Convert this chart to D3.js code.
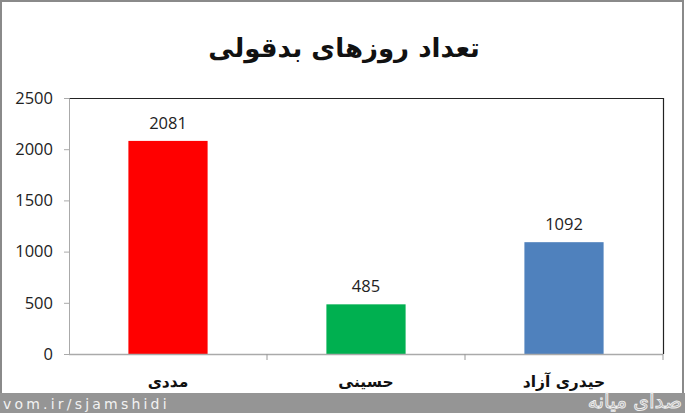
<!DOCTYPE html>
<html><head><meta charset="utf-8">
<script src="https://cdn.jsdelivr.net/npm/d3@7"></script>
<style>body{margin:0;background:#fff}svg{display:block}</style>
</head><body>
<script>
const categories = ["مددی", "حسینی", "حیدری آزاد"];
const values = [2081, 485, 1092];
const colors = ["#FF0000", "#00B050", "#4F81BD"];
const yTicks = [0, 500, 1000, 1500, 2000, 2500];
const title = "تعداد روزهای بدقولی";

const W = 685, H = 413;
const svg = d3.select("body").append("svg").attr("width", W).attr("height", H);

// outer frame
svg.append("rect").attr("x", 1).attr("y", 1).attr("width", 682).attr("height", 411)
  .attr("fill", "#fff").attr("stroke", "#8a8a8a").attr("stroke-width", 2);

const m = {left: 69, right: 663, top: 98, bottom: 354};
const x = d3.scaleBand().domain(categories).range([m.left, m.right]).paddingInner(0.6).paddingOuter(0.3);
const y = d3.scaleLinear().domain([0, 2500]).range([m.bottom, m.top]);

// top and right border (dark)
svg.append("path").attr("d", `M${m.left},${m.top+0.5}H${m.right+0.5}V${m.bottom}`)
  .attr("fill", "none").attr("stroke", "#222").attr("stroke-width", 1.2);

// bars
svg.selectAll("rect.bar").data(values).join("rect").attr("class", "bar")
  .attr("x", (d, i) => x(categories[i]))
  .attr("width", x.bandwidth())
  .attr("y", d => y(d))
  .attr("height", d => y(0) - y(d))
  .attr("fill", (d, i) => colors[i]);

// value labels
svg.selectAll("text.val").data(values).join("text").attr("class", "val")
  .attr("x", (d, i) => x(categories[i]) + x.bandwidth() / 2)
  .attr("y", d => y(d) - 12)
  .attr("text-anchor", "middle")
  .attr("font-family", "Open Sans, sans-serif").attr("font-size", 16.5).attr("fill", "#222")
  .text(d => d);

// y axis
const yAxis = d3.axisLeft(y).tickValues(yTicks).tickSize(5).tickPadding(11).tickFormat(d3.format("d"));
const gy = svg.append("g").attr("transform", `translate(${m.left},0)`).call(yAxis);
gy.select(".domain").attr("stroke", "#aaa");
gy.selectAll(".tick line").attr("stroke", "#aaa");
gy.selectAll(".tick text").attr("font-family", "Open Sans, sans-serif").attr("font-size", 16.5).attr("fill", "#222");

// x axis
const step = x.step();
const gx = svg.append("g");
gx.append("line").attr("x1", m.left).attr("x2", m.right).attr("y1", m.bottom + 0.5).attr("y2", m.bottom + 0.5)
  .attr("stroke", "#aaa").attr("stroke-width", 1.5);
const bounds = d3.range(categories.length + 1).map(i => m.left + i * step);
gx.selectAll("line.tk").data(bounds.slice(1)).join("line").attr("class", "tk")
  .attr("x1", d => d).attr("x2", d => d).attr("y1", m.bottom).attr("y2", m.bottom + 6)
  .attr("stroke", "#999");
gx.selectAll("text.cat").data(categories).join("text").attr("class", "cat")
  .attr("x", d => x(d) + x.bandwidth() / 2)
  .attr("y", 387)
  .attr("text-anchor", "middle").attr("direction", "rtl")
  .attr("font-family", "DejaVu Sans, sans-serif").attr("font-weight", "bold").attr("font-size", 15.5).attr("fill", "#111")
  .text(d => d);

// title
svg.append("text").attr("x", 344).attr("y", 57).attr("text-anchor", "middle").attr("direction", "rtl")
  .attr("font-family", "DejaVu Sans, sans-serif").attr("font-weight", "bold").attr("font-size", 26).attr("fill", "#111")
  .text(title);

// watermark strip
svg.append("rect").attr("x", 0).attr("y", 393).attr("width", W).attr("height", 20).attr("fill", "#959595");
svg.append("text").attr("x", 3).attr("y", 409)
  .attr("font-family", "DejaVu Sans, sans-serif").attr("font-size", 14).attr("letter-spacing", 3.2)
  .attr("fill", "#f2f2f2").text("vom.ir/sjamshidi");
svg.append("text").attr("x", 682).attr("y", 408).attr("text-anchor", "start").attr("direction", "rtl")
  .attr("font-family", "DejaVu Sans, sans-serif").attr("font-size", 20).attr("fill", "#a5a5a5")
  .attr("stroke", "#f0f0f0").attr("stroke-width", 0.9).text("صدای میانه");
</script>
</body></html>
